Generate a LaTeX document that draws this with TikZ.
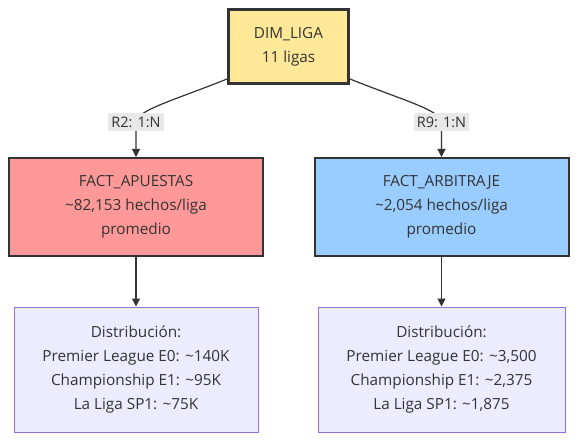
\documentclass[tikz,border=0pt]{standalone}
\usepackage{fontspec}
\setmainfont{Open Sans}
\usetikzlibrary{arrows.meta}
\definecolor{txt}{HTML}{333333}
\definecolor{yel}{HTML}{FFE999}
\definecolor{red1}{HTML}{FF9999}
\definecolor{blu1}{HTML}{99CCFF}
\definecolor{lav}{HTML}{ECECFF}
\definecolor{purp}{HTML}{9370DB}
\definecolor{lblbg}{HTML}{E8E8E8}
\tikzset{
  box/.style={draw=txt, text=txt, align=center, font=\fontsize{15.3}{24}\selectfont, inner sep=0pt},
  topbox/.style={box, fill=yel, line width=3pt, minimum width=120pt, minimum height=74pt},
  factbox/.style={box, line width=2pt, minimum width=254pt, minimum height=98pt},
  distbox/.style={box, draw=purp, fill=lav, line width=1pt, minimum height=125pt},
  lbl/.style={fill=lblbg, text=txt, font=\fontsize{14.5}{16}\selectfont, inner xsep=3pt, inner ysep=4pt},
  conn/.style={draw=txt, line width=1.2pt, -{Triangle[width=8pt,length=8pt]}}
}
\begin{document}
\begin{tikzpicture}[x=1pt,y=-1pt]
\useasboundingbox (0,0) rectangle (586,446);
\node[topbox] (top) at (288.5,46.5) {DIM\_LIGA\\11 ligas};
\node[factbox, fill=red1] (apu) at (136,207) {FACT\_APUESTAS\\\textasciitilde82,153 hechos/liga\\promedio};
\node[factbox, fill=blu1] (arb) at (441.5,207) {FACT\_ARBITRAJE\\\textasciitilde2,054 hechos/liga\\promedio};
\node[distbox, minimum width=244pt] (d1) at (136,369.5) {Distribución:\\Premier League E0: \textasciitilde140K\\Championship E1: \textasciitilde95K\\La Liga SP1: \textasciitilde75K};
\node[distbox, minimum width=247pt] (d2) at (441.5,369.5) {Distribución:\\Premier League E0: \textasciitilde3,500\\Championship E1: \textasciitilde2,375\\La Liga SP1: \textasciitilde1,875};
\coordinate (l1) at (136,122);
\coordinate (l2) at (441.5,122);
\draw[conn] ([yshift=6pt]top.south west) .. controls (175,100) and (137,110) .. (l1) -- (apu.north);
\draw[conn] ([yshift=6pt]top.south east) .. controls (402,100) and (440.5,110) .. (l2) -- (arb.north);
\node[lbl] (r2) at (l1) {R2: 1:N};
\node[lbl] (r9) at (l2) {R9: 1:N};
\draw[conn] (apu) -- (d1);
\draw[conn] (arb) -- (d2);
\end{tikzpicture}
\end{document}
